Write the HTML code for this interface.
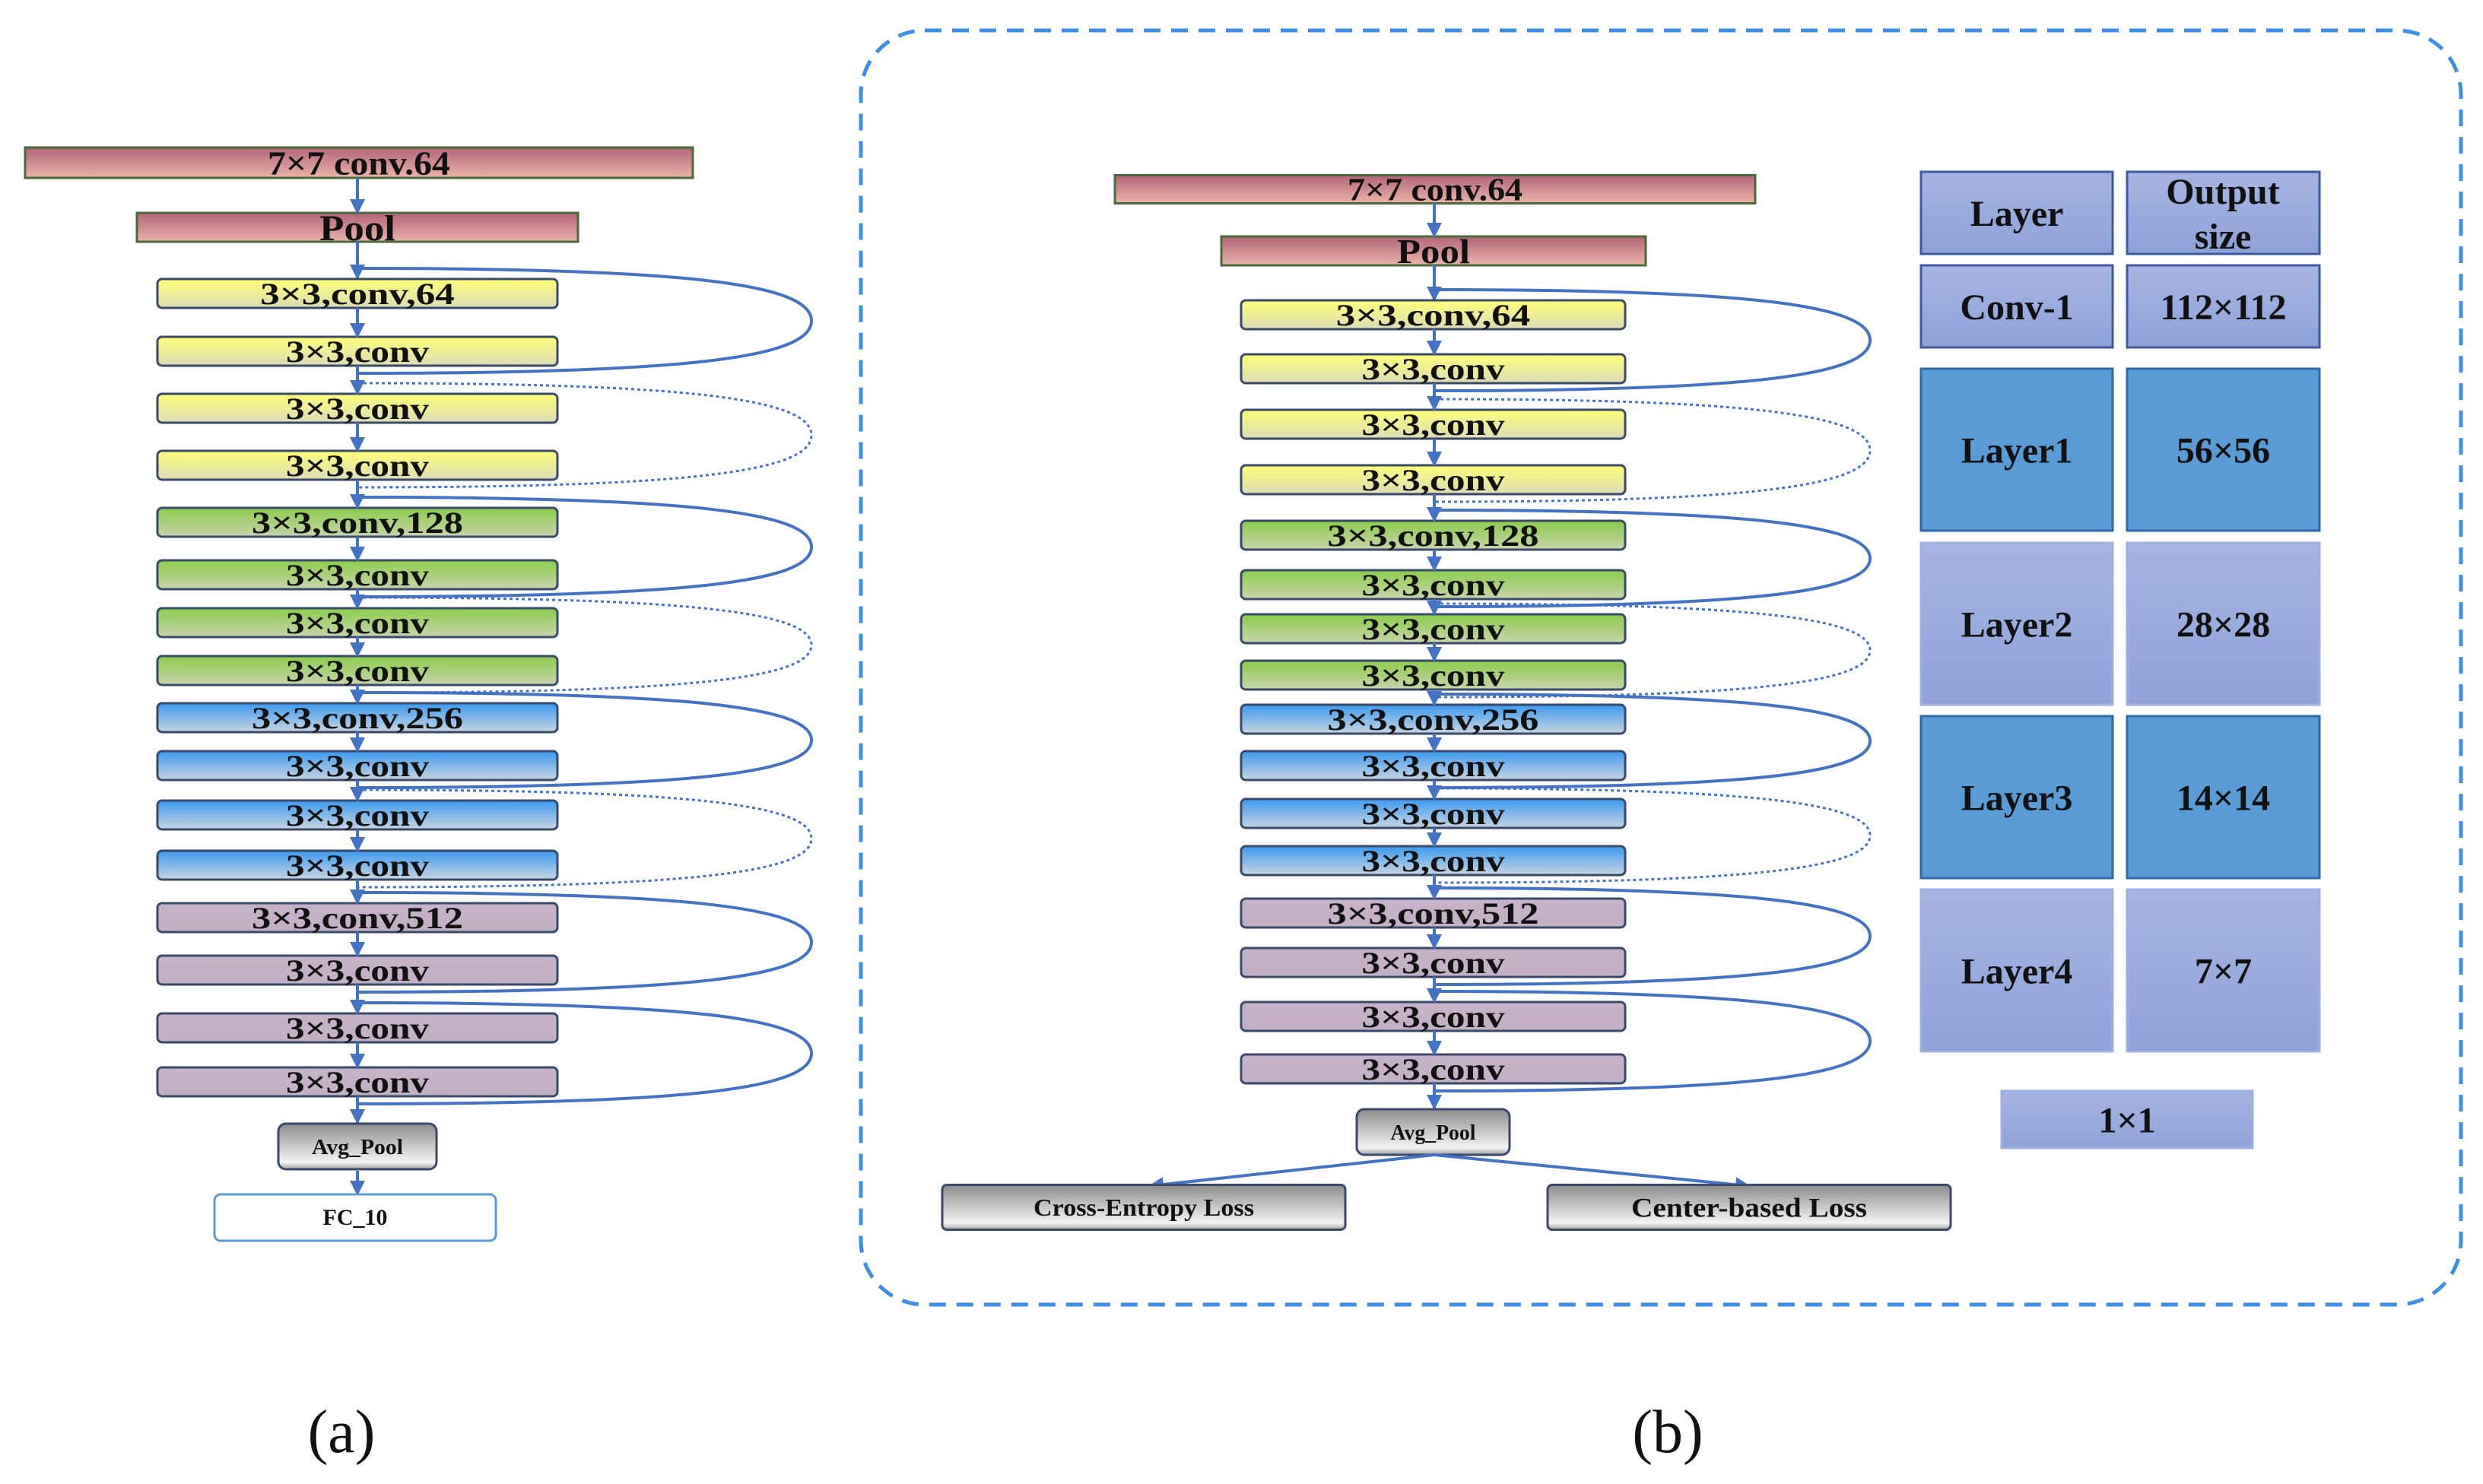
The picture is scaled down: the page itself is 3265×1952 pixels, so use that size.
<!DOCTYPE html>
<html><head><meta charset="utf-8">
<style>
html,body{margin:0;padding:0;background:#fff;}
svg{display:block;}
text{font-family:"Liberation Serif",serif;font-weight:bold;fill:#111;}
</style></head>
<body>
<svg id="s" width="3265" height="1952" viewBox="0 0 3265 1952" xmlns="http://www.w3.org/2000/svg">
<defs>
<linearGradient id="gR" x1="0" y1="0" x2="0" y2="1"><stop offset="0" stop-color="#b26478"/><stop offset="1" stop-color="#eab4aa"/></linearGradient>
<linearGradient id="gY" x1="0" y1="0" x2="0" y2="1"><stop offset="0" stop-color="#ffff78"/><stop offset="1" stop-color="#dcdcb8"/></linearGradient>
<linearGradient id="gG" x1="0" y1="0" x2="0" y2="1"><stop offset="0" stop-color="#8ccc4c"/><stop offset="1" stop-color="#c8d4ac"/></linearGradient>
<linearGradient id="gB" x1="0" y1="0" x2="0" y2="1"><stop offset="0" stop-color="#3c9af0"/><stop offset="1" stop-color="#c8d4e0"/></linearGradient>
<linearGradient id="gP" x1="0" y1="0" x2="0" y2="1"><stop offset="0" stop-color="#c6b2c8"/><stop offset="1" stop-color="#c2b0c4"/></linearGradient>
<linearGradient id="gA" x1="0" y1="0" x2="0" y2="1"><stop offset="0" stop-color="#8c8c8c"/><stop offset="0.85" stop-color="#f4f4f4"/><stop offset="1" stop-color="#a0a0a0"/></linearGradient>
<linearGradient id="gL" x1="0" y1="0" x2="0" y2="1"><stop offset="0" stop-color="#a6b4e2"/><stop offset="1" stop-color="#8ea2d8"/></linearGradient>
<marker id="ar" viewBox="0 0 10 10" refX="9" refY="5" markerWidth="5" markerHeight="5" orient="auto"><path d="M0,0 L10,5 L0,10z" fill="#4472c4"/></marker>
</defs>
<g id="g"></g>
</svg>
<script>
var o='';
function box(x1,x2,cy,h,fill,label,fs,rx,stroke,tl){
  o+='<rect x="'+x1+'" y="'+(cy-h/2)+'" width="'+(x2-x1)+'" height="'+h+'" rx="'+rx+'" fill="url(#'+fill+')" stroke="'+stroke+'" stroke-width="3"/>';
  o+='<text x="'+((x1+x2)/2)+'" y="'+(cy+fs*0.35)+'" font-size="'+fs+'" text-anchor="middle"'+(tl?' textLength="'+tl+'" lengthAdjust="spacingAndGlyphs"':'')+'>'+label+'</text>';
}
function arrow(x,y1,y2){o+='<line x1="'+x+'" y1="'+y1+'" x2="'+x+'" y2="'+y2+'" stroke="#4472c4" stroke-width="4" marker-end="url(#ar)"/>';}
function loop(cx,xr,y1,y2,dash){
  var ym=(y1+y2)/2,h=y2-y1;
  o+='<path d="M'+cx+','+y1+' C'+(xr-160)+','+y1+' '+xr+','+(ym-h*0.35)+' '+xr+','+ym+' C'+xr+','+(ym+h*0.35)+' '+(xr-160)+','+y2+' '+cx+','+y2+'" fill="none" stroke="#4472c4" stroke-width="'+(dash?3:4)+'" '+(dash?'stroke-dasharray="4,4"':'')+'/>';
}
function column(cx,x1,x2,xr,centers,h,fs,labels,fills){
  for(var i=0;i<centers.length;i++){
    box(x1,x2,centers[i],h,fills[i],labels[i],fs,6,'#3a4a6a',labels[i].length*22.5+8);
  }
  for(var i=0;i<centers.length-1;i++) arrow(cx,centers[i]+h/2,centers[i+1]-h/2);
  for(var k=0;k<8;k++){
    var a=centers[2*k]-h/2-14,b=centers[2*k+1]+h/2+10;
    var dash=(k%2==1)&&k<6;
    loop(cx,xr,a,b,dash);
  }
}
var labs=['3×3,conv,64','3×3,conv','3×3,conv','3×3,conv','3×3,conv,128','3×3,conv','3×3,conv','3×3,conv','3×3,conv,256','3×3,conv','3×3,conv','3×3,conv','3×3,conv,512','3×3,conv','3×3,conv','3×3,conv'];
var fills=['gY','gY','gY','gY','gG','gG','gG','gG','gB','gB','gB','gB','gP','gP','gP','gP'];
// (a)
box(33,911,214,40,'gR','7×7 conv.64',44,0,'#4a6a3a',240);
box(180,760,299,38,'gR','Pool',48,0,'#4a6a3a',100);
arrow(470,234,280);arrow(470,318,366);
column(470,207,733,1067,[386,462,537,612,687,756,819,882,944,1007,1072,1138,1207,1276,1352,1423],38,40,labs,fills);
arrow(470,1442,1477);
box(366,574,1508,60,'gA','Avg_Pool',28,10,'#3a4a6a',120);
arrow(470,1540,1571);
o+='<rect x="282" y="1571" width="370" height="61" rx="8" fill="#fff" stroke="#5b9bd5" stroke-width="3"/><text x="467" y="1611" font-size="30" text-anchor="middle">FC_10</text>';
// (b)
o+='<rect x="1132" y="40" width="2104" height="1676" rx="84" fill="none" stroke="#3d8ee8" stroke-width="5" stroke-dasharray="22,14"/>';
box(1466,2308,249,37,'gR','7×7 conv.64',42,0,'#4a6a3a',230);
box(1606,2164,330,38,'gR','Pool',46,0,'#4a6a3a',96);
arrow(1886,267,311);arrow(1886,349,395);
column(1886,1632,2137,2459,[414,485,558,631,704,769,827,888,946,1007,1070,1132,1201,1266,1337,1406],38,40,labs,fills);
arrow(1886,1425,1458);
box(1784,1985,1489,60,'gA','Avg_Pool',28,10,'#3a4a6a',112);
o+='<line x1="1886" y1="1519" x2="1512" y2="1560" stroke="#4472c4" stroke-width="4" marker-end="url(#ar)"/>';
o+='<line x1="1886" y1="1519" x2="2300" y2="1560" stroke="#4472c4" stroke-width="4" marker-end="url(#ar)"/>';
box(1239,1769,1588,59,'gA','Cross-Entropy Loss',32,6,'#3a4a6a',290);
box(2035,2565,1588,59,'gA','Center-based Loss',36,6,'#3a4a6a',310);
// table
function cell(x1,x2,y1,y2,fill,label,fs,stroke){
  o+='<rect x="'+x1+'" y="'+y1+'" width="'+(x2-x1)+'" height="'+(y2-y1)+'" fill="'+fill+'" stroke="'+stroke+'" stroke-width="3"/>';
  if(label) o+='<text x="'+((x1+x2)/2)+'" y="'+((y1+y2)/2+fs*0.35)+'" font-size="'+fs+'" text-anchor="middle">'+label+'</text>';
}
var rows=[[226,334,'url(#gL)','#3e5aa0'],[349,457,'url(#gL)','#3e5aa0'],[485,698,'#5b9bd5','#2e6aa8'],[714,927,'url(#gL)','#9fb0e0'],[942,1155,'#5b9bd5','#2e6aa8'],[1170,1383,'url(#gL)','#9fb0e0']];
var c1=[null,'Conv-1','Layer1','Layer2','Layer3','Layer4'],c2=[null,'112×112','56×56','28×28','14×14','7×7'];
for(var i=0;i<6;i++){
  cell(2526,2778,rows[i][0],rows[i][1],rows[i][2],c1[i],48,rows[i][3]);
  cell(2797,3050,rows[i][0],rows[i][1],rows[i][2],c2[i],48,rows[i][3]);
}
o+='<text x="2652" y="297" font-size="48" text-anchor="middle">Layer</text>';
o+='<text x="2923" y="268" font-size="48" text-anchor="middle">Output</text><text x="2923" y="327" font-size="48" text-anchor="middle">size</text>';
cell(2632,2962,1435,1510,'url(#gL)','1×1',48,'#9fb0e0');
o+='<text x="449" y="1910" font-size="80" style="font-weight:normal" text-anchor="middle">(a)</text>';
o+='<text x="2193" y="1910" font-size="80" style="font-weight:normal" text-anchor="middle">(b)</text>';
document.getElementById('g').innerHTML=o;
</script>
</body></html>
